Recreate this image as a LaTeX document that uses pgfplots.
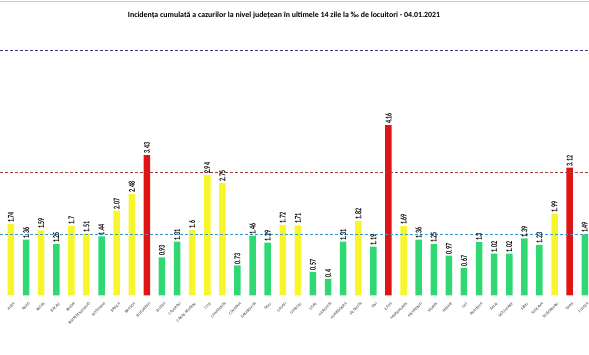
\documentclass[border=0pt]{standalone}
\usepackage{pgfplots}
\pgfplotsset{compat=1.18}
\usepackage{fontspec}
\setmainfont{Carlito}
\definecolor{cyel}{HTML}{F6F62A}
\definecolor{cgrn}{HTML}{2FD873}
\definecolor{cred}{HTML}{E01414}
\definecolor{lblue}{HTML}{3A9AC8}
\definecolor{lred}{HTML}{A83A3A}
\definecolor{lnavy}{HTML}{3A3A8C}
\begin{document}
\begin{tikzpicture}[x=1bp,y=1bp]
\path[use as bounding box] (0,0) rectangle (589,354);
\draw[gray!40, line width=0.8bp] (0,353) -- (589,353);
\node[font=\bfseries\fontsize{7.9}{8.5}\selectfont] at (284,339) {Incidența cumulată a cazurilor la nivel județean în ultimele 14 zile la ‰ de locuitori - 04.01.2021};
\begin{axis}[
  at={(0bp,58.7bp)}, anchor=south west,
  scale only axis, width=589bp, height=295.3bp,
  xmin=-0.728, xmax=38.28, ymin=0, ymax=7.22,
  axis line style={draw=none}, tick style={draw=none},
  ytick=\empty,
  xtick={0,...,38},
  xticklabels={ALBA,ARAD,ARGES,BACAU,BIHOR,BISTRITA-NASAUD,BOTOSANI,BRAILA,BRASOV,BUCURESTI,BUZAU,CALARASI,CARAS-SEVERIN,CLUJ,CONSTANTA,COVASNA,DAMBOVITA,DOLJ,GALATI,GIURGIU,GORJ,HARGHITA,HUNEDOARA,IALOMITA,IASI,ILFOV,MARAMURES,MEHEDINTI,MURES,NEAMT,OLT,PRAHOVA,SALAJ,SATU MARE,SIBIU,SUCEAVA,TELEORMAN,TIMIS,TULCEA},
  xticklabel style={font=\fontsize{4}{4.2}\selectfont, text=black!80, rotate=45, anchor=north east, inner sep=0.3bp, yshift=-3bp},
  ybar, bar width=6.5bp, bar shift=0pt,
  clip=false,
  nodes near coords,
  nodes near coords style={font=\bfseries\fontsize{6}{6}\selectfont, xscale=1.5, rotate=90, anchor=west, inner sep=1.2bp, text=black,
    /pgf/number format/.cd, fixed, precision=2, assume math mode=true},
]
\addplot[draw=none, fill=cyel] coordinates {(0,1.74) (2,1.59) (4,1.7) (5,1.51) (7,2.07) (8,2.48) (12,1.6) (13,2.94) (14,2.75) (18,1.72) (19,1.71) (23,1.82) (26,1.69) (36,1.99)};
\addplot[draw=none, fill=cgrn] coordinates {(1,1.36) (3,1.25) (6,1.44) (10,0.93) (11,1.31) (15,0.73) (16,1.46) (17,1.29) (20,0.57) (21,0.4) (22,1.31) (24,1.19) (27,1.36) (28,1.25) (29,0.97) (30,0.67) (31,1.3) (32,1.02) (33,1.02) (34,1.39) (35,1.23) (38,1.49)};
\addplot[draw=none, fill=cred] coordinates {(9,3.43) (25,4.16) (37,3.12)};
\draw[lblue, dashed, dash pattern=on 3bp off 2bp, line width=0.7bp] (axis cs:-0.728,1.5) -- (axis cs:38.28,1.5);
\draw[lred, dashed, dash pattern=on 3bp off 2bp, line width=0.7bp] (axis cs:-0.728,3) -- (axis cs:38.28,3);
\draw[lnavy, dashed, dash pattern=on 3bp off 2bp, line width=0.7bp] (axis cs:-0.728,6) -- (axis cs:38.28,6);
\end{axis}
\end{tikzpicture}
\end{document}
